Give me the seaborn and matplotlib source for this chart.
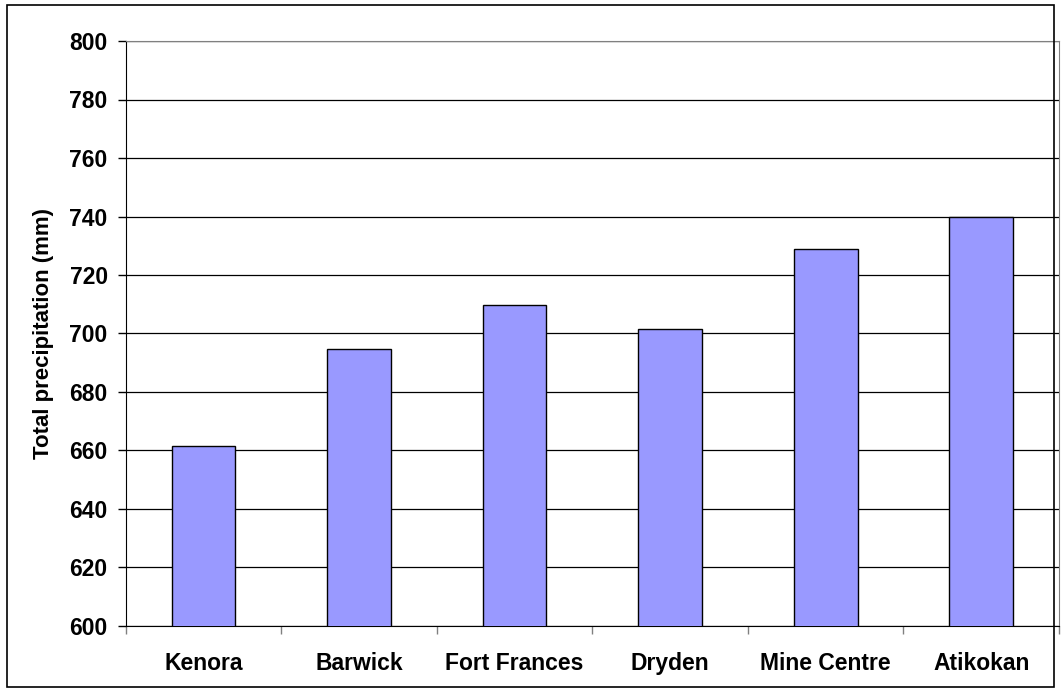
import matplotlib
matplotlib.use("Agg")
import matplotlib.pyplot as plt
import seaborn as sns
import pandas as pd

stations = ["Kenora", "Barwick", "Fort Frances", "Dryden", "Mine Centre", "Atikokan"]
precip_mm = [661.6, 694.7, 709.7, 701.4, 728.9, 739.8]

df = pd.DataFrame({"station": stations, "precip": precip_mm})

sns.set_style("white")
plt.rcParams['font.family'] = ['Liberation Sans', 'DejaVu Sans']
plt.rcParams['font.weight'] = 'bold'
plt.rcParams['text.color'] = 'black'
plt.rcParams['axes.labelcolor'] = 'black'
plt.rcParams['xtick.color'] = 'black'
plt.rcParams['ytick.color'] = 'black'

fig = plt.figure(figsize=(10.62, 6.92), dpi=100)
ax = fig.add_axes([125.7 / 1062, 1 - 626 / 692, (1059 - 125.7) / 1062, (626 - 41) / 692])

sns.barplot(data=df, x="station", y="precip", color="#9999FF", edgecolor="black",
            linewidth=1.0, width=0.41, saturation=1, ax=ax, zorder=3)

ax.set_ylim(600, 800)
ax.set_yticks(range(600, 801, 20))
ax.set_xlim(-0.5, len(stations) - 0.5)
ax.yaxis.grid(True, color="black", linewidth=0.9, zorder=0)
ax.set_axisbelow(True)
for s in ["top", "right"]:
    ax.spines[s].set_color("#808080")
for s in ["left", "bottom"]:
    ax.spines[s].set_color("black")

ax.tick_params(axis="y", direction="out", length=6, width=1, left=True, labelsize=16.5, pad=7)
# category boundaries as x ticks
ax.set_xticks([i - 0.5 for i in range(len(stations) + 1)], minor=True)
ax.tick_params(axis="x", which="minor", direction="out", length=6, width=1, bottom=True, color="#808080")
ax.tick_params(axis="x", which="major", length=0, labelsize=16.5, pad=19)
for lab in ax.get_xticklabels() + ax.get_yticklabels():
    lab.set_fontweight("bold")

ax.set_xlabel("")
ax.set_ylabel("Total precipitation (mm)", fontsize=16, fontweight="bold", labelpad=11)

fig.patches.append(plt.Rectangle((7 / 1062, 5 / 692), 1047 / 1062, 682 / 692, transform=fig.transFigure,
                                 fill=False, edgecolor="black", linewidth=1.2))

fig.savefig("out.png", dpi=100)
